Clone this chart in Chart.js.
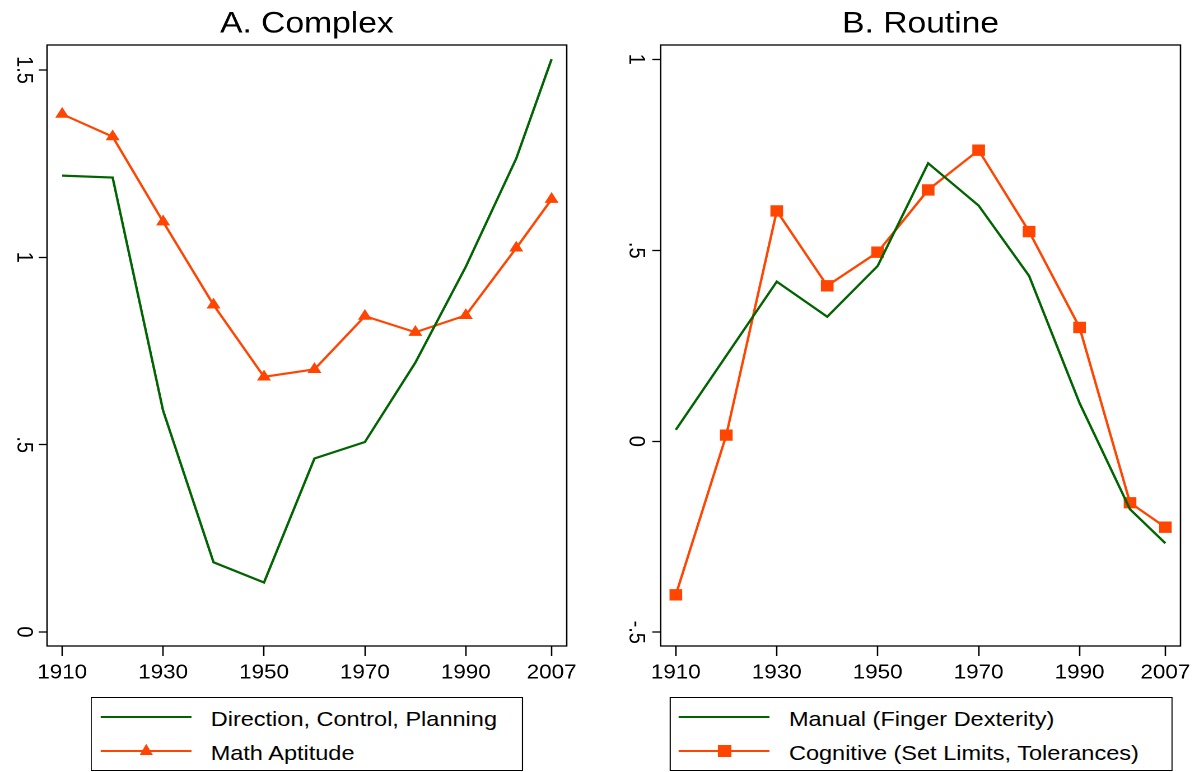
<!DOCTYPE html>
<html>
<head>
<meta charset="utf-8">
<title>Complex and Routine</title>
<script src="https://cdn.jsdelivr.net/npm/chart.js@4.4.1/dist/chart.umd.min.js"></script>
<style>
  html, body { margin: 0; padding: 0; background: #fff; overflow: hidden; }
  /* the reference is a little wider than it is tall, so the whole figure is stretched */
  #stage { position: absolute; left: 0; top: 0; width: 1075px; height: 772px;
           transform: scaleX(1.12); transform-origin: 0 0;
           font-family: "Liberation Sans", Arial, Helvetica, sans-serif; }
  #chartA { position: absolute; left: 0; top: 0; }
  #chartB { position: absolute; left: 536px; top: 0; }
  .legend { position: absolute; top: 696.5px; height: 74px; border: 1.3px solid #000;
            box-sizing: border-box; background: #fff; }
  .legend .sample { position: absolute; left: 7.8px; width: 81px; height: 2px; }
  .legend .mark { position: absolute; }
  .legend .txt { position: absolute; left: 105.8px; font-size: 21px; line-height: 24px;
                 white-space: nowrap; color: #000; }
</style>
</head>
<body>
<div id="stage">
  <canvas id="chartA" width="536" height="700"></canvas>
  <canvas id="chartB" width="540" height="700"></canvas>
  <div class="legend" id="legendA" style="left:81.3px; width:385.7px;"></div>
  <div class="legend" id="legendB" style="left:597.6px; width:449.5px;"></div>
</div>
<script>
const years = [1910, 1920, 1930, 1940, 1950, 1960, 1970, 1980, 1990, 2000, 2007];
const xTicks = [1910, 1930, 1950, 1970, 1990, 2007];
const xTickLabels = ['1910', '1930', '1950', '1970', '1990', '2007'];

// A. Complex
const directionControl = [1.218, 1.213, 0.591, 0.186, 0.132, 0.463, 0.507, 0.719, 0.975, 1.264, 1.529];
const mathAptitude = [1.382, 1.322, 1.095, 0.873, 0.681, 0.701, 0.843, 0.800, 0.845, 1.025, 1.155];
const yTicksA = [0, 0.5, 1, 1.5];
const yTickLabelsA = ['0', '.5', '1', '1.5'];

// B. Routine
const manualDexterity = [0.030, 0.224, 0.418, 0.326, 0.459, 0.728, 0.617, 0.433, 0.100, -0.178, -0.267];
const cognitiveLimits = [-0.402, 0.016, 0.603, 0.407, 0.495, 0.658, 0.762, 0.549, 0.298, -0.161, -0.225];
const yTicksB = [-0.5, 0, 0.5, 1];
const yTickLabelsB = ['-.5', '0', '.5', '1'];

const GREEN = 'rgb(0,100,0)';
const ORANGE = 'rgb(255,69,0)';
const FONT = '"Liberation Sans", Arial, Helvetica, sans-serif';

// black box round the plot area
const frame = {
    id: 'frame',
    beforeDatasetsDraw(chart) {
        const { ctx, chartArea: a } = chart;
        ctx.save();
        ctx.strokeStyle = '#000';
        ctx.lineWidth = 1.3;
        ctx.strokeRect(a.left, a.top, a.right - a.left, a.bottom - a.top);
        ctx.restore();
    }
};

function makePanel(canvasId, title, series, yTicks, yLabels, yMin, yMax, axisWidth, padRight, yPad) {
    const ctx = document.getElementById(canvasId).getContext('2d');
    return new Chart(ctx, {
        type: 'line',
        data: {
            datasets: series.map(s => ({
                label: s.label,
                data: years.map((yr, i) => ({ x: yr, y: s.values[i] })),
                borderColor: s.color,
                backgroundColor: s.color,
                borderWidth: 2.2,
                tension: 0,
                pointStyle: s.marker || 'circle',
                pointRadius: s.marker ? s.radius : 0,
                pointBorderWidth: 0,
                pointBackgroundColor: s.color
            }))
        },
        options: {
            responsive: false,
            animation: false,
            devicePixelRatio: 2,
            events: [],
            layout: { padding: { left: 0, right: padRight, top: 0, bottom: 0 } },
            plugins: {
                legend: { display: false },
                tooltip: { enabled: false },
                title: {
                    display: true,
                    text: title,
                    fullSize: false,
                    color: '#000',
                    font: { family: FONT, size: 30, weight: 'normal' },
                    padding: { top: 6.2, bottom: 2.8 }
                }
            },
            scales: {
                x: {
                    type: 'linear',
                    min: 1907,
                    max: 2010,
                    afterBuildTicks: sc => { sc.ticks = xTicks.map(v => ({ value: v })); },
                    afterFit: sc => { sc.height = 54; },
                    ticks: {
                        autoSkip: false,
                        maxRotation: 0,
                        padding: 5,
                        color: '#000',
                        font: { family: FONT, size: 20 },
                        callback: (v, i) => xTickLabels[i]
                    },
                    grid: { drawOnChartArea: false, tickLength: 10, tickWidth: 1.3, tickColor: '#000' },
                    border: { display: false }
                },
                y: {
                    type: 'linear',
                    min: yMin,
                    max: yMax,
                    afterBuildTicks: sc => { sc.ticks = yTicks.map(v => ({ value: v })); },
                    afterFit: sc => { sc.width = axisWidth; },
                    ticks: {
                        autoSkip: false,
                        minRotation: -90,
                        maxRotation: -90,
                        crossAlign: 'center',
                        padding: yPad,
                        color: '#000',
                        font: { family: FONT, size: 20 },
                        callback: (v, i) => yLabels[i]
                    },
                    grid: { drawOnChartArea: false, tickLength: 7.5, tickWidth: 1.3, tickColor: '#000' },
                    border: { display: false }
                }
            }
        },
        plugins: [frame]
    });
}

function buildLegend(id, series) {
    const box = document.getElementById(id);
    const rows = [19.5, 53.7];
    series.forEach((s, i) => {
        const cy = rows[i];
        const line = document.createElement('div');
        line.className = 'sample';
        line.style.top = (cy - 1) + 'px';
        line.style.background = s.color;
        box.appendChild(line);
        if (s.marker) {
            const m = document.createElement('div');
            m.className = 'mark';
            m.style.background = s.color;
            m.style.width = '12px';
            m.style.left = (7.8 + 40.5 - 6) + 'px';
            if (s.marker === 'triangle') {
                m.style.height = '11.5px';
                m.style.top = (cy - 7.5) + 'px';
                m.style.clipPath = 'polygon(50% 0, 100% 100%, 0 100%)';
            } else {
                m.style.height = '12px';
                m.style.top = (cy - 6) + 'px';
            }
            box.appendChild(m);
        }
        const txt = document.createElement('div');
        txt.className = 'txt';
        txt.style.top = (cy - 10.5) + 'px';
        txt.textContent = s.label;
        box.appendChild(txt);
    });
}

const seriesA = [
    { label: 'Direction, Control, Planning', values: directionControl, color: GREEN },
    { label: 'Math Aptitude', values: mathAptitude, color: ORANGE, marker: 'triangle', radius: 7.2 }
];
const seriesB = [
    { label: 'Manual (Finger Dexterity)', values: manualDexterity, color: GREEN },
    { label: 'Cognitive (Set Limits, Tolerances)', values: cognitiveLimits, color: ORANGE, marker: 'rect', radius: 8 }
];

makePanel('chartA', 'A. Complex', seriesA, yTicksA, yTickLabelsA, -0.0374, 1.5667, 42, 30, -0.5);
makePanel('chartB', 'B. Routine', seriesB, yTicksB, yTickLabelsB, -0.536, 1.0374, 53.9, 22, 3);
buildLegend('legendA', seriesA);
buildLegend('legendB', seriesB);
</script>
</body>
</html>
